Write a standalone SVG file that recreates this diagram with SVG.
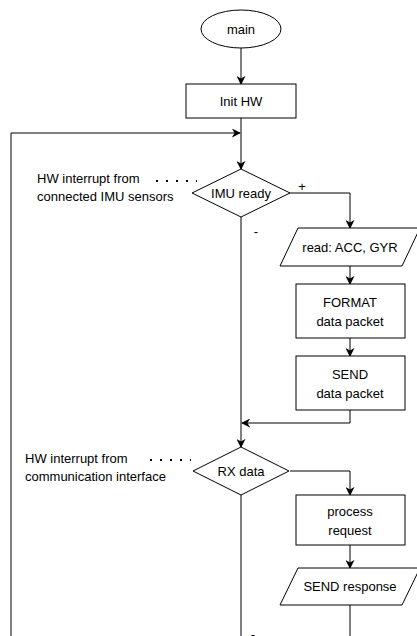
<svg xmlns="http://www.w3.org/2000/svg" width="417" height="636" viewBox="0 0 417 636">
  <style>
    .shape { fill: #fff; stroke: #000; stroke-width: 1; }
    .edge { fill: none; stroke: #000; stroke-width: 1; }
    .dots { fill: none; stroke: #000; stroke-width: 2; stroke-dasharray: 2 8; }
    text { font-family: "Liberation Sans", Arial, sans-serif; font-size: 13px; fill: #000; }
    .c { text-anchor: middle; }
  </style>
  <defs>
    <marker id="arrow" viewBox="0 0 10 10" refX="9" refY="5" markerUnits="userSpaceOnUse" markerWidth="9" markerHeight="9" orient="auto">
      <path d="M0,0 L10,5 L0,10 L3,5 z" fill="#000"/>
    </marker>
  </defs>

  <!-- connectors -->
  <g id="connectors">
    <line class="edge" x1="241" y1="48" x2="241" y2="84" marker-end="url(#arrow)"/>
    <line class="edge" x1="241" y1="118" x2="241" y2="169" marker-end="url(#arrow)"/>
    <path class="edge" d="M11,636 V133 H240" marker-end="url(#arrow)"/>
    <path class="edge" d="M290,193 H350 V228" marker-end="url(#arrow)"/>
    <line class="edge" x1="350" y1="266" x2="350" y2="284" marker-end="url(#arrow)"/>
    <line class="edge" x1="350" y1="338" x2="350" y2="356" marker-end="url(#arrow)"/>
    <path class="edge" d="M350,410 V423 H242" marker-end="url(#arrow)"/>
    <line class="edge" x1="241" y1="217" x2="241" y2="447" marker-end="url(#arrow)"/>
    <path class="edge" d="M290,471 H350 V495" marker-end="url(#arrow)"/>
    <line class="edge" x1="350" y1="545" x2="350" y2="568" marker-end="url(#arrow)"/>
    <line class="edge" x1="350" y1="605" x2="350" y2="636"/>
    <line class="edge" x1="241" y1="495" x2="241" y2="636"/>
    <line class="dots" x1="156" y1="181" x2="197" y2="181"/>
    <line class="dots" x1="150" y1="460" x2="191" y2="460"/>
    <text x="302" y="191" class="c">+</text>
    <text x="256" y="236" class="c">-</text>
    <text x="253" y="639" class="c">-</text>
  </g>

  <g id="main">
    <ellipse class="shape" cx="241" cy="29" rx="40" ry="19"/>
    <text x="241" y="34" class="c">main</text>
  </g>

  <g id="init-hw">
    <rect class="shape" x="186" y="84" width="110" height="34"/>
    <text x="241" y="105.5" class="c">Init HW</text>
  </g>

  <g id="imu-ready">
    <polygon class="shape" points="241,169 290,193 241,217 192,193"/>
    <text x="241" y="197.5" class="c">IMU ready</text>
  </g>

  <g id="imu-note">
    <text x="37" y="183">HW interrupt from</text>
    <text x="37" y="201">connected IMU sensors</text>
  </g>

  <g id="read-sensors">
    <polygon class="shape" points="298,228 420,228 402,266 280,266"/>
    <text x="350" y="251.5" class="c">read: ACC, GYR</text>
  </g>

  <g id="format-packet">
    <rect class="shape" x="296" y="284" width="109" height="54"/>
    <text x="350" y="307" class="c">FORMAT</text>
    <text x="350" y="326" class="c">data packet</text>
  </g>

  <g id="send-packet">
    <rect class="shape" x="296" y="356" width="109" height="54"/>
    <text x="350" y="379" class="c">SEND</text>
    <text x="350" y="398" class="c">data packet</text>
  </g>

  <g id="rx-data">
    <polygon class="shape" points="241,447 289,471 241,495 193,471"/>
    <text x="241" y="475.5" class="c">RX data</text>
  </g>

  <g id="rx-note">
    <text x="25" y="463">HW interrupt from</text>
    <text x="25" y="481">communication interface</text>
  </g>

  <g id="process-request">
    <rect class="shape" x="296" y="495" width="109" height="50"/>
    <text x="350" y="516" class="c">process</text>
    <text x="350" y="535" class="c">request</text>
  </g>

  <g id="send-response">
    <polygon class="shape" points="298,568 420,568 402,605 280,605"/>
    <text x="350" y="591" class="c">SEND response</text>
  </g>
</svg>
